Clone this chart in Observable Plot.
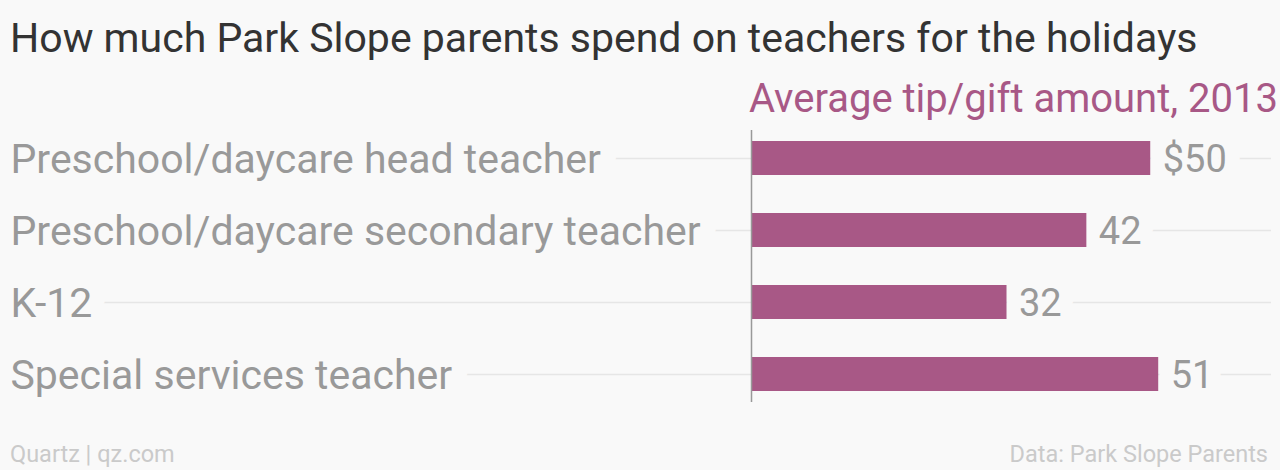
<!DOCTYPE html>
<html><head><meta charset="utf-8">
<script src="https://cdn.jsdelivr.net/npm/d3@7"></script>
<script src="https://cdn.jsdelivr.net/npm/@observablehq/plot@0.6"></script>
<style>
body{margin:0;background:#f9f9f9;width:1280px;height:470px;overflow:hidden;position:relative;font-family:Roboto, sans-serif}
.t{position:absolute;white-space:nowrap;line-height:1}
#title{left:10px;top:18px;font-size:41px;color:#333}
#subtitle{right:2px;top:79px;font-size:40px;color:#a85886}
#src{left:10px;top:443px;font-size:23.5px;color:#cacaca}
#data{right:12px;top:443px;font-size:23.5px;color:#cacaca}
#chart{position:absolute;left:0;top:70px}
</style></head><body>
<div class="t" id="title">How much Park Slope parents spend on teachers for the holidays</div>
<div class="t" id="subtitle">Average tip/gift amount, 2013</div>
<div id="chart"></div>
<div class="t" id="src">Quartz | qz.com</div>
<div class="t" id="data">Data: Park Slope Parents</div>
<script>
const categories = ["Preschool/daycare head teacher","Preschool/daycare secondary teacher","K-12","Special services teacher"];
const values = [50, 42, 32, 51];
const valueLabels = ["$50", "42", "32", "51"];
const rows = categories.map((c, i) => ({category: c, value: values[i], label: valueLabels[i]}));
const bg = "#f9f9f9";
const plot = Plot.plot({
  width: 1280, height: 340,
  marginLeft: 10, marginRight: 9, marginTop: 52, marginBottom: 0,
  style: {background: "transparent", fontFamily: "Roboto, sans-serif"},
  x: {domain: [0, 65], range: [751, 1270], axis: null},
  y: {domain: categories, paddingInner: 0.53, paddingOuter: 0.265, axis: null},
  marks: [
    Plot.ruleY(rows, {y: "category", stroke: "#e6e6e6", strokeWidth: 1.5}),
    Plot.text(rows, {y: "category", text: "category", frameAnchor: "left", textAnchor: "start", fontSize: 41, fill: "#999", stroke: bg, strokeWidth: 32, dy: 1}),
    Plot.text(rows, {x: "value", y: "category", text: "label", textAnchor: "start", dx: 12, fontSize: 38, fill: "#999", stroke: bg, strokeWidth: 30, dy: 1}),
    Plot.barX(rows, {x: "value", y: "category", fill: "#a85886"}),
    Plot.ruleX([0], {stroke: "#999", strokeWidth: 1.5, insetTop: 8, insetBottom: 8})
  ]
});
document.getElementById("chart").appendChild(plot);
</script>
</body></html>
